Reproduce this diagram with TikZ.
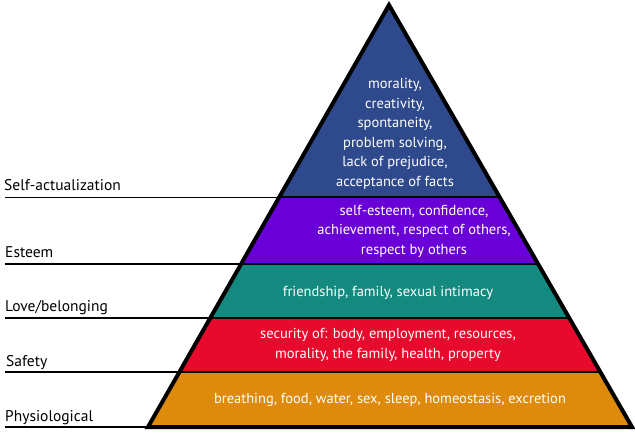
\documentclass[tikz,border=0pt]{standalone}
\usepackage{fontspec}
\setmainfont{PT Sans}
\definecolor{cTop}{HTML}{2E4A8C}
\definecolor{cEst}{HTML}{6A00D8}
\definecolor{cLove}{HTML}{14897F}
\definecolor{cSafe}{HTML}{E80A2C}
\definecolor{cPhys}{HTML}{DE8A0C}
\tikzset{
  intext/.style={text=white,align=center,font=\fontsize{14.5}{19.5}\selectfont,inner sep=0pt},
  lbl/.style={anchor=base west,font=\fontsize{15.5}{18}\selectfont,inner sep=0pt},
  divider/.style={line width=2pt},
  guide/.style={line width=1.5pt}
}
\begin{document}
\begin{tikzpicture}[x=1pt,y=-1pt]
\useasboundingbox (0,0) rectangle (635,433);
\coordinate (apex) at (389,5);
\coordinate (l1) at (279.1,197.5); \coordinate (r1) at (499.9,197.5);
\coordinate (l2) at (241.1,264);   \coordinate (r2) at (538.1,264);
\coordinate (l3) at (210.3,318);   \coordinate (r3) at (569.2,318);
\coordinate (l4) at (179.4,372);   \coordinate (r4) at (600.3,372);
\coordinate (l5) at (148,427);     \coordinate (r5) at (632,427);
\fill[cTop] (apex) -- (r1) -- (l1) -- cycle;
\fill[cEst] (l1) -- (r1) -- (r2) -- (l2) -- cycle;
\fill[cLove] (l2) -- (r2) -- (r3) -- (l3) -- cycle;
\fill[cSafe] (l3) -- (r3) -- (r4) -- (l4) -- cycle;
\fill[cPhys] (l4) -- (r4) -- (r5) -- (l5) -- cycle;
\draw[divider] (l1) -- (r1) (l2) -- (r2) (l3) -- (r3) (l4) -- (r4);
\coordinate (g1) at (5,197.5); \coordinate (g2) at (5,264);
\coordinate (g3) at (5,318); \coordinate (g4) at (5,372); \coordinate (g5) at (5,427);
\draw[guide] (g1) -- (l1) (g2) -- (l2) (g3) -- (l3) (g4) -- (l4) (g5) -- (l5);
\draw[line width=4pt,line join=miter] (apex) -- (r5) -- (l5) -- cycle;
\node[intext] (tSelf) at (395,134) {morality,\\creativity,\\spontaneity,\\problem solving,\\lack of prejudice,\\acceptance of facts};
\node[intext] (tEst) at (414,231) {self-esteem, confidence,\\achievement, respect of others,\\respect by others};
\node[intext] (tLove) at (388,293) {friendship, family, sexual intimacy};
\node[intext] (tSafe) at (388,345) {security of: body, employment, resources,\\morality, the family, health, property};
\node[intext] (tPhys) at (390,400) {breathing, food, water, sex, sleep, homeostasis, excretion};
\node[lbl] (lSelf) at (4,190) {Self-actualization};
\node[lbl] (lEst) at (5,258) {Esteem};
\node[lbl] (lLove) at (5,311) {Love/belonging};
\node[lbl] (lSafe) at (6,366) {Safety};
\node[lbl] (lPhys) at (5,421) {Physiological};
\end{tikzpicture}
\end{document}
